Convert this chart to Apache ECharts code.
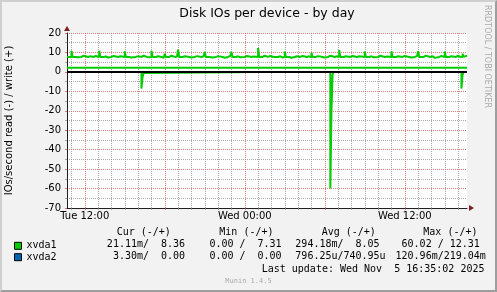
<!DOCTYPE html>
<html><head><meta charset="utf-8">
<script src="https://cdn.jsdelivr.net/npm/echarts@6/dist/echarts.min.js"></script>
<style>
html,body{margin:0;padding:0;background:#f2f2f2;}
#wrap{position:relative;width:497px;height:292px;}
#chart{width:497px;height:292px;}
#frame{position:absolute;left:0;top:0;width:497px;height:292px;box-sizing:border-box;border:2px solid;border-color:#cfcfcf #9e9e9e #9e9e9e #cfcfcf;pointer-events:none;}
</style></head>
<body><div id="wrap"><div id="chart"></div><div id="frame"></div></div>
<script>
// ---- data (x = minutes since Tue 00:00, 5-min samples; change points of step lines) ----
const xRange = [640, 2440];
const xvda1Write = [[640,7.7],[660,10.9],[665,7.7],[680,7.5],[690,7.7],[705,8.3],[715,7.7],[735,8.0],[745,7.7],[760,8.2],[770,7.7],[785,10.9],[790,7.7],[805,7.9],[815,7.4],[825,7.7],[840,8.2],[850,7.7],[870,8.0],[880,7.7],[900,10.6],[905,7.7],[920,7.4],[930,7.7],[950,8.1],[960,7.7],[975,8.3],[985,7.7],[1000,7.5],[1010,7.7],[1020,10.9],[1025,7.7],[1040,8.0],[1050,7.7],[1065,7.3],[1075,7.7],[1080,9.3],[1085,7.7],[1100,8.3],[1110,7.7],[1125,7.9],[1135,7.7],[1140,11.4],[1145,7.7],[1160,8.0],[1170,7.7],[1190,7.4],[1200,7.7],[1215,8.1],[1225,7.7],[1245,8.0],[1255,7.7],[1260,10.3],[1265,7.7],[1280,8.3],[1285,7.4],[1295,7.7],[1310,8.1],[1320,7.7],[1340,7.3],[1350,7.7],[1365,8.2],[1375,7.7],[1380,10.3],[1385,7.7],[1400,8.0],[1410,7.5],[1420,7.7],[1440,8.2],[1450,7.7],[1470,7.9],[1480,7.7],[1500,12.3],[1505,7.7],[1520,8.3],[1530,7.7],[1545,8.2],[1555,7.7],[1570,8.6],[1575,7.7],[1590,8.0],[1600,7.4],[1610,7.7],[1620,10.5],[1625,7.7],[1640,7.3],[1650,7.7],[1665,8.0],[1675,7.7],[1690,8.2],[1700,7.7],[1720,8.0],[1730,7.5],[1740,9.9],[1745,7.7],[1760,8.1],[1770,7.7],[1790,7.4],[1800,7.7],[1815,8.3],[1825,7.7],[1845,8.0],[1855,7.7],[1865,11.2],[1870,7.7],[1885,8.0],[1895,7.7],[1915,8.2],[1925,7.7],[1945,8.0],[1955,7.7],[1980,10.5],[1985,7.7],[2000,8.0],[2010,7.5],[2020,7.7],[2040,8.3],[2050,7.7],[2070,7.9],[2080,7.7],[2100,10.6],[2105,7.7],[2120,8.0],[2130,7.7],[2150,8.2],[2160,7.7],[2180,7.4],[2190,7.7],[2205,8.1],[2215,7.7],[2220,10.6],[2225,7.7],[2245,8.3],[2255,7.7],[2275,8.0],[2285,7.2],[2295,7.7],[2315,8.2],[2325,7.7],[2340,10.5],[2345,7.7],[2360,8.0],[2370,7.7],[2390,8.3],[2400,7.7],[2410,8.5],[2415,7.7],[2420,9.3],[2425,7.7],[2430,8.36],[2440,8.36]];
const xvda1Read = [[640,0],[975,-8.6],[980,-2.6],[985,-0.6],[990,0],[1500,-0.9],[1505,0],[1825,-60.0],[1830,-20.5],[1835,-1.3],[1840,0],[2415,-8.6],[2420,-1.5],[2425,0],[2440,0]];
const xvda2Write = [[640,0],[2440,0]];
const xvda2Read = [[640,0],[2440,0]];
const levelLine = [[640,2.1],[2440,2.1]];
const zeroLine = [[640,0],[2440,0]];

const xLabelValues = [720, 1440, 2160];
const xLabelTexts = ['Tue 12:00', 'Wed 00:00', 'Wed 12:00'];
const xMajorTicks = [720, 1080, 1440, 1800, 2160];
const xMinorTicks = [660,780,840,900,960,1020,1140,1200,1260,1320,1380,1500,1560,1620,1680,1740,1860,1920,1980,2040,2100,2220,2280,2340,2400];
const yRange = [-70, 20];
const yStep = 10;

const seriesNames = ['xvda1', 'xvda2'];
const statHeaders = ['Cur (-/+)', 'Min (-/+)', 'Avg (-/+)', 'Max (-/+)'];
const xvda1Stats = ['21.11m/  8.36', '0.00 /  7.31', '294.18m/  8.05', '60.02 / 12.31'];
const xvda2Stats = ['3.30m/  0.00', '0.00 /  0.00', '796.25u/740.95u', '120.96m/219.04m'];
const lastUpdate = 'Last update: Wed Nov  5 16:35:02 2025';
const titleText = 'Disk IOs per device - by day';
const yName = 'IOs/second read (-) / write (+)';

// ---- styling ----
const C_GREEN = '#00cc00', C_BLUE = '#0066b3';
const C_GRID = 'rgba(143,143,143,0.75)', C_MGRID = 'rgba(222,79,79,0.75)';
const C_AXIS = '#1f1f1f', C_ARROW = '#801f1f';
const SANS = 'DejaVu Sans', MONO = 'DejaVu Sans Mono';
const headerX = [116.7, 219.3, 321.7, 423.3];
const slashX = [149, 245.5, 343.5, 443.7];
const headerY = 232.7, rowY = [244.3, 256];

const graphics = [];
const mono = '10px "' + MONO + '"';
statHeaders.forEach((h, c) => graphics.push({type:'text', x: headerX[c], y: headerY, silent:true,
  style:{text:h, font:mono, fill:'#000', align:'left', verticalAlign:'middle'}}));
[xvda1Stats, xvda2Stats].forEach((row, r) => row.forEach((cell, c) => {
  const k = cell.indexOf('/');
  graphics.push({type:'text', x: slashX[c], y: rowY[r], silent:true,
    style:{text:cell.slice(0, k + 1), font:mono, fill:'#000', align:'right', verticalAlign:'middle'}});
  graphics.push({type:'text', x: slashX[c], y: rowY[r], silent:true,
    style:{text:cell.slice(k + 1), font:mono, fill:'#000', align:'left', verticalAlign:'middle'}});
}));
graphics.push({type:'text', x: 261.7, y: 269, silent:true,
  style:{text:lastUpdate, font:mono, fill:'#000', align:'left', verticalAlign:'middle'}});
graphics.push({type:'text', x: 248.5, y: 281, silent:true,
  style:{text:'Munin 1.4.5', font:'7px "' + MONO + '"', fill:'#a9a9a9', align:'center', verticalAlign:'middle'}});
graphics.push({type:'text', x: 487.5, y: 56.5, rotation: -Math.PI / 2, silent:true,
  style:{text:'RRDTOOL / TOBI OETIKER', font:'8px "' + SANS + '"', fill:'#aaaaaa', align:'center', verticalAlign:'middle'}});

function stepSeries(name, data, color, z) {
  return {name, type:'line', step:'end', data, symbol:'none', showSymbol:false,
    xAxisIndex:0, yAxisIndex:0, z: z || 2, silent:true, animation:false,
    itemStyle:{color}, lineStyle:{color, width:2}};
}

const chart = echarts.init(document.getElementById('chart'), null, {renderer:'canvas'});
chart.setOption({
  backgroundColor: '#f2f2f2',
  animation: false,
  title: {text: titleText, left: 267, top: 7.5, textAlign: 'center', padding: 0,
    textStyle: {fontFamily: SANS, fontSize: 12.5, fontWeight: 'normal', color: '#000'}},
  legend: {data: seriesNames, orient: 'vertical', left: 14, top: 240.8, padding: 0,
    itemWidth: 7, itemHeight: 7, itemGap: 1.4, icon: 'rect', selectedMode: false,
    itemStyle: {borderColor: '#000', borderWidth: 1},
    textStyle: {fontFamily: MONO, fontSize: 10, color: '#000', lineHeight: 7}},
  grid: {left: 67, right: 30, top: 33, bottom: 84, show: true, backgroundColor: '#fff', borderWidth: 0, outerBoundsMode: 'none'},
  xAxis: [{
    type: 'value', min: xRange[0], max: xRange[1],
    axisLine: {show: true, onZero: false, lineStyle: {color: C_AXIS, width: 1}},
    axisTick: {show: true, customValues: xMajorTicks, length: 2, lineStyle: {color: C_MGRID}},
    axisLabel: {show: true, customValues: xLabelValues, margin: 3, color: '#000', fontFamily: SANS, fontSize: 10,
      formatter: v => { const i = xLabelValues.indexOf(v); return i < 0 ? '' : xLabelTexts[i]; }},
    splitLine: {show: true, lineStyle: {color: C_MGRID, width: 1, type: [1, 1]}}
  }, {
    type: 'value', min: xRange[0], max: xRange[1], position: 'bottom',
    axisLine: {show: true, onZero: false, symbol: ['none', 'triangle'], symbolSize: [6, 5], symbolOffset: [0, 4.5],
      lineStyle: {color: C_ARROW, width: 0}},
    axisTick: {show: true, customValues: xMinorTicks, length: 2, lineStyle: {color: C_GRID}},
    axisLabel: {show: false},
    splitLine: {show: true, lineStyle: {color: C_GRID, width: 1, type: [1, 1]}}
  }],
  yAxis: [{
    type: 'value', min: yRange[0], max: yRange[1], interval: yStep,
    name: yName, nameLocation: 'middle', nameGap: 53, nameRotate: 90,
    nameTextStyle: {fontFamily: SANS, fontSize: 10, color: '#000'},
    axisLine: {show: true, onZero: false, lineStyle: {color: C_AXIS, width: 1}},
    axisTick: {show: true, length: 2, lineStyle: {color: C_MGRID}},
    minorTick: {show: true, splitNumber: 2, length: 2, lineStyle: {color: C_GRID}},
    axisLabel: {margin: 6, color: '#000', fontFamily: SANS, fontSize: 10},
    splitLine: {show: true, lineStyle: {color: C_MGRID, width: 1, type: [1, 1]}},
    minorSplitLine: {show: true, lineStyle: {color: C_GRID, width: 1, type: [1, 1]}}
  }, {
    type: 'value', min: yRange[0], max: yRange[1], interval: yStep, position: 'left',
    axisLine: {show: true, onZero: false, symbol: ['none', 'triangle'], symbolSize: [6, 5], symbolOffset: [0, 4.5],
      lineStyle: {color: C_ARROW, width: 0}},
    axisTick: {show: false}, axisLabel: {show: false}, splitLine: {show: false}
  }],
  series: [
    stepSeries('xvda2', xvda2Read, C_BLUE),
    stepSeries('xvda2', xvda2Write, C_BLUE),
    stepSeries('xvda1', xvda1Read, C_GREEN),
    stepSeries('xvda1', xvda1Write, C_GREEN),
    stepSeries('level', levelLine, C_GREEN),
    stepSeries('zero', zeroLine, '#000', 3)
  ],
  graphic: graphics
});
</script></body></html>
